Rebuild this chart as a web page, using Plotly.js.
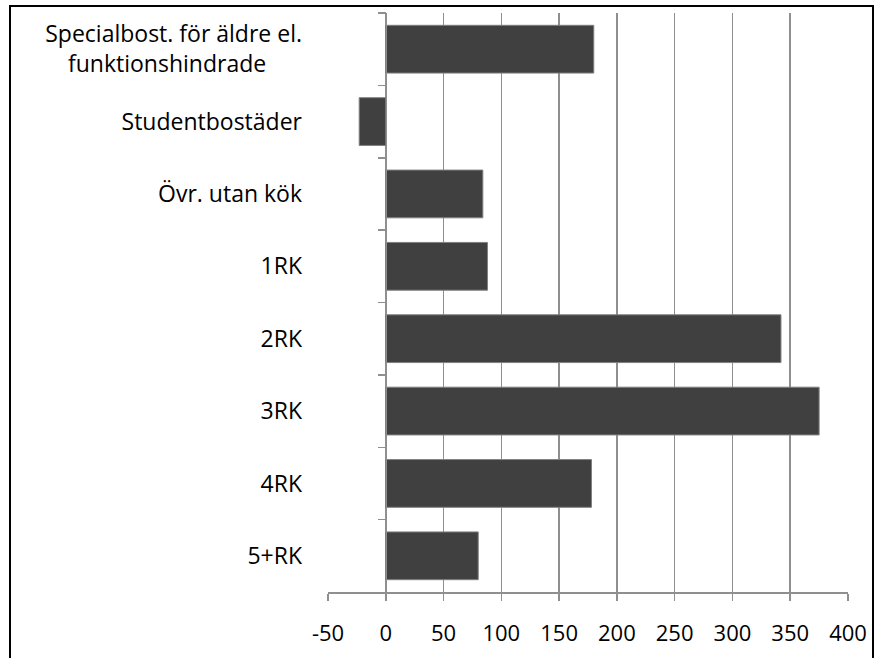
<!DOCTYPE html>
<html>
<head>
<meta charset="utf-8">
<script src="https://cdn.plot.ly/plotly-3.0.1.min.js"></script>
<style>
  html, body { margin: 0; padding: 0; background: #fff; }
  #chart { position: absolute; left: 0; top: 0; width: 878px; height: 658px; }
  #frame { position: absolute; left: 9px; top: 5px; width: 861px; height: 670px;
           border: 2px solid #000; border-bottom: none; pointer-events: none; }
</style>
</head>
<body>
<div id="chart"></div>
<div id="frame"></div>
<script>
const categories = [
  "Specialbost. för äldre el.",
  "Studentbostäder",
  "Övr. utan kök",
  "1RK",
  "2RK",
  "3RK",
  "4RK",
  "5+RK"
];
const categoryLabels = [
  "Specialbost. för äldre el.<br>funktionshindrade\u00A0\u00A0\u00A0\u00A0\u00A0\u00A0",
  "Studentbostäder",
  "Övr. utan kök",
  "1RK",
  "2RK",
  "3RK",
  "4RK",
  "5+RK"
];
const values = [180, -23, 84, 88, 342, 375, 178, 80];
const xTickValues = [-50, 0, 50, 100, 150, 200, 250, 300, 350, 400];

const xMin = xTickValues[0], xMax = xTickValues[xTickValues.length - 1];
const zeroPos = (0 - xMin) / (xMax - xMin);

const fontFamily = "'Open Sans', sans-serif";
const grid = "#8f8f8f";

const data = [
  {
    type: "bar",
    orientation: "h",
    x: values,
    y: categories,
    marker: { color: "#404040", line: { color: "#808080", width: 1 } },
    hoverinfo: "x+y",
    showlegend: false
  },
  {
    type: "bar",
    orientation: "h",
    x: values,
    y: categories,
    yaxis: "y2",
    marker: { color: "rgba(0,0,0,0)", line: { width: 0 } },
    hoverinfo: "skip",
    showlegend: false
  }
];

const layout = {
  width: 878,
  height: 658,
  margin: { l: 328, r: 30, t: 13, b: 66 },
  paper_bgcolor: "#fff",
  plot_bgcolor: "#fff",
  font: { family: fontFamily, size: 23, color: "#000" },
  bargap: 0.34,
  barmode: "overlay",
  xaxis: {
    range: [xMin, xMax],
    tickvals: xTickValues,
    ticktext: xTickValues.map(String),
    tickfont: { size: 22 },
    showgrid: true,
    gridcolor: grid,
    gridwidth: 1.5,
    zeroline: false,
    showline: true,
    linecolor: grid,
    linewidth: 1.5,
    ticks: "outside",
    ticklen: 7,
    tickwidth: 1.5,
    tickcolor: grid,
    ticklabelstandoff: 14,
    fixedrange: true
  },
  yaxis: {
    type: "category",
    categoryorder: "array",
    categoryarray: categories,
    tickvals: categories,
    ticktext: categoryLabels,
    autorange: "reversed",
    showgrid: false,
    zeroline: false,
    showline: false,
    ticks: "",
    ticklabelstandoff: 25,
    fixedrange: true
  },
  yaxis2: {
    type: "category",
    categoryorder: "array",
    categoryarray: categories,
    overlaying: "y",
    anchor: "free",
    side: "left",
    position: zeroPos,
    autorange: "reversed",
    showticklabels: false,
    showgrid: false,
    zeroline: false,
    showline: true,
    linecolor: grid,
    linewidth: 1.5,
    ticks: "outside",
    tickson: "boundaries",
    ticklen: 8,
    tickwidth: 1.5,
    tickcolor: grid,
    fixedrange: true
  }
};

Plotly.newPlot("chart", data, layout, { displayModeBar: false, staticPlot: true });
</script>
</body>
</html>
